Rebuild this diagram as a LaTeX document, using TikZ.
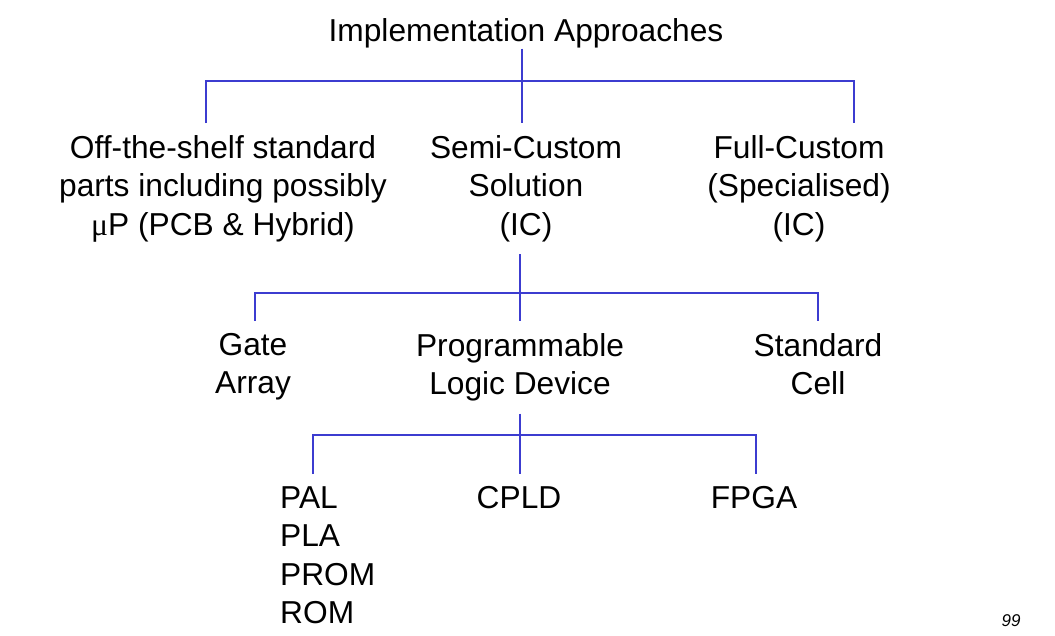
\documentclass[tikz,border=0pt]{standalone}
\usepackage{fontspec}
\setmainfont{Liberation Sans}
\newfontfamily\serifmu{Liberation Serif}
\definecolor{busblue}{RGB}{60,60,208}
\tikzstyle{titlebox} = [inner sep=0pt, anchor=north, font=\fontsize{31.7}{38.6}\selectfont]
\tikzstyle{leafbox} = [align=center, inner xsep=0pt, inner ysep=12pt, anchor=north, font=\fontsize{31.7}{38.6}\selectfont]
\tikzstyle{bus} = [busblue, line width=2.5pt]

\begin{document}
\begin{tikzpicture}[x=1pt, y=-1pt] % y grows downwards, 1pt per pixel
\useasboundingbox (0,0) rectangle (1055,635);

% Nodes
\node (approaches) [titlebox] at (526,18.7) {Implementation Approaches};
\node (offshelf) [leafbox] at (223,123) {Off-the-shelf standard\\parts including possibly\\{\serifmu μ}P (PCB \& Hybrid)};
\node (semicustom) [leafbox] at (526,123) {Semi-Custom\\Solution\\(IC)};
\node (fullcustom) [leafbox] at (799,123) {Full-Custom\\(Specialised)\\(IC)};
\node (gatearray) [leafbox] at (253,321) {Gate\\Array};
\node (pld) [leafbox] at (520,321) {Programmable\\Logic Device};
\node (stdcell) [leafbox] at (818,321) {Standard\\Cell};
\node (pal) [leafbox, anchor=north west, align=left] at (280,474) {PAL\\PLA\\PROM\\ROM};
\node (cpld) [leafbox] at (519,474) {CPLD};
\node (fpga) [leafbox] at (754,474) {FPGA};
\node (pagenum) [inner sep=0pt, font=\fontsize{17}{20}\selectfont\itshape] at (1011,621) {99};

% Bus ends
\coordinate (busAj) at (522,81);
\coordinate (busAw) at (206,81);
\coordinate (busAe) at (854,81);
\coordinate (busBw) at (255,293);
\coordinate (busBe) at (818,293);
\coordinate (busCw) at (313,435);
\coordinate (busCe) at (756,435);

% Lines
\draw [bus] (approaches.south -| busAj) -- (busAj |- semicustom.north);
\draw [bus] (busAw |- offshelf.north) -- (busAw) -- (busAe) -- (busAe |- fullcustom.north);
\draw [bus] (pld.north |- semicustom.south) -- (pld.north);
\draw [bus] (busBw |- gatearray.north) -- (busBw) -- (busBe) -- (busBe |- stdcell.north);
\draw [bus] (pld.south) -- (pld.south |- cpld.north);
\draw [bus] (busCw |- pal.north) -- (busCw) -- (busCe) -- (busCe |- fpga.north);

\end{tikzpicture}
\end{document}
